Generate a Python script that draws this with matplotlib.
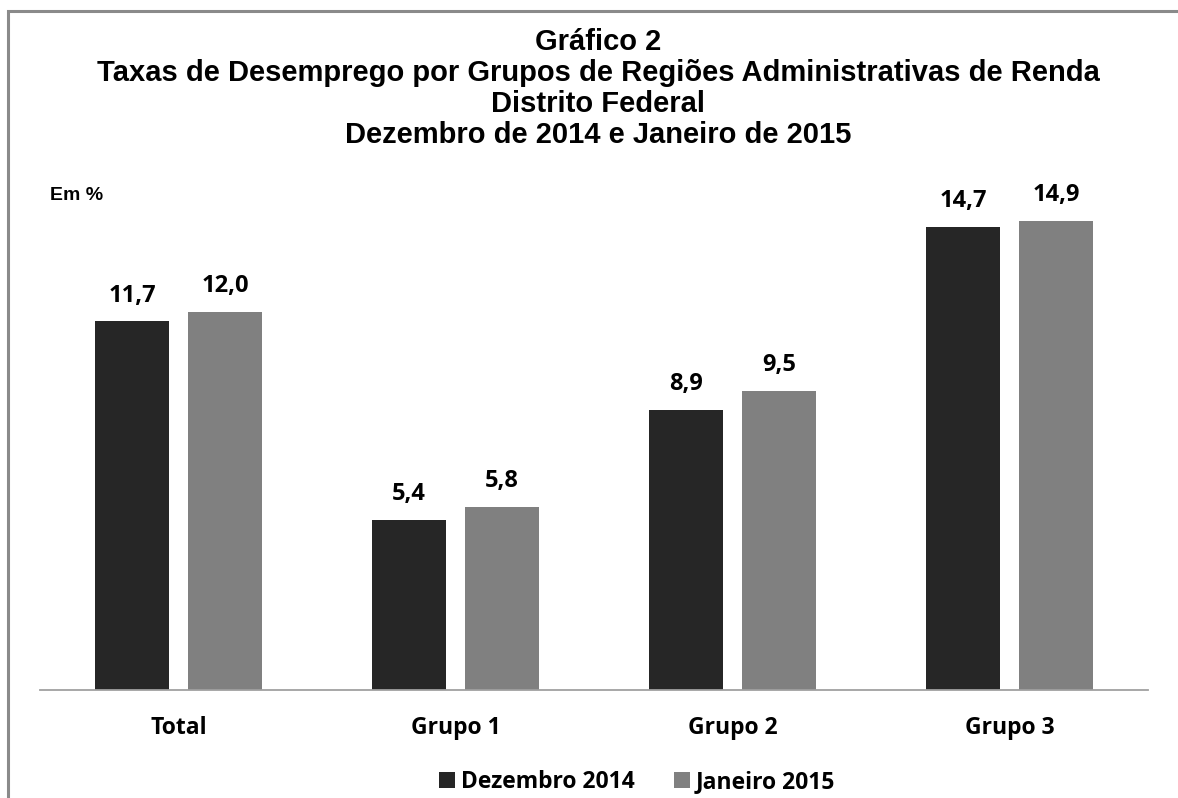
import numpy as np
import matplotlib
matplotlib.use("Agg")
import matplotlib.pyplot as plt
from matplotlib.patches import Rectangle

# data
categorias = ["Total", "Grupo 1", "Grupo 2", "Grupo 3"]
dez_2014 = [11.7, 5.4, 8.9, 14.7]
jan_2015 = [12.0, 5.8, 9.5, 14.9]
serie_nomes = ["Dezembro 2014", "Janeiro 2015"]
rotulos_dez = ["11,7", "5,4", "8,9", "14,7"]
rotulos_jan = ["12,0", "5,8", "9,5", "14,9"]

cor_escura = "#262626"
cor_clara = "#808080"

W, H = 1178, 798
fig = plt.figure(figsize=(W / 100, H / 100), dpi=100)
fig.patch.set_facecolor("white")

# frame around the chart (only left and top are visible in the picture)
fig.patches.append(Rectangle((8 / W, -0.1), 1.2, (H - 11) / H + 0.1,
                             transform=fig.transFigure, fill=False,
                             edgecolor="#8a8a8a", linewidth=2.2))

ax = fig.add_axes([40 / W, (H - 690) / H, 1108 / W, 504 / H])

x = np.arange(len(categorias))
larg = 0.267
desl = (larg + 0.069) / 2
b1 = ax.bar(x - desl, dez_2014, larg, color=cor_escura, label=serie_nomes[0])
b2 = ax.bar(x + desl, jan_2015, larg, color=cor_clara, label=serie_nomes[1])

lab_font = dict(family=["Open Sans", "DejaVu Sans"], fontweight="bold", fontsize=17)
for rects, labs in ((b1, rotulos_dez), (b2, rotulos_jan)):
    for r, t in zip(rects, labs):
        ax.annotate(t, (r.get_x() + r.get_width() / 2, r.get_height()),
                    xytext=(0, 10), textcoords="offset points",
                    ha="center", va="bottom", **lab_font)

ax.set_xlim(-0.5, len(categorias) - 0.5)
ax.set_ylim(0, 16)
ax.set_yticks([])
ax.set_xticks(x)
ax.set_xticklabels(categorias, family=["Open Sans", "DejaVu Sans"],
                   fontweight="bold", fontsize=16.5)
ax.tick_params(axis="x", length=0, pad=19)
for s in ["left", "right", "top"]:
    ax.spines[s].set_visible(False)
ax.spines["bottom"].set_color("#a0a0a0")
ax.spines["bottom"].set_linewidth(1.3)

titulo = ("Gráfico 2\n"
          "Taxas de Desemprego por Grupos de Regiões Administrativas de Renda\n"
          "Distrito Federal\n"
          "Dezembro de 2014 e Janeiro de 2015")
fig.text(598 / W, 1 - 28 / H, titulo, ha="center", va="top",
         family=["Liberation Sans", "DejaVu Sans"], fontweight="bold",
         fontsize=21, linespacing=1.13)

fig.text(50 / W, 1 - 195 / H, "Em %", ha="left", va="center",
         family=["Liberation Sans", "DejaVu Sans"], fontweight="bold",
         fontsize=14)

leg = fig.legend(handles=[b1, b2], loc="center", bbox_to_anchor=(637 / W, 1 - 782 / H),
                 ncol=2, frameon=False, handlelength=0.72, handleheight=0.72,
                 handletextpad=0.25, columnspacing=1.7,
                 prop=dict(family=["Open Sans", "DejaVu Sans"], weight="bold", size=16.5))

fig.savefig("out.png", dpi=100, facecolor="white")
